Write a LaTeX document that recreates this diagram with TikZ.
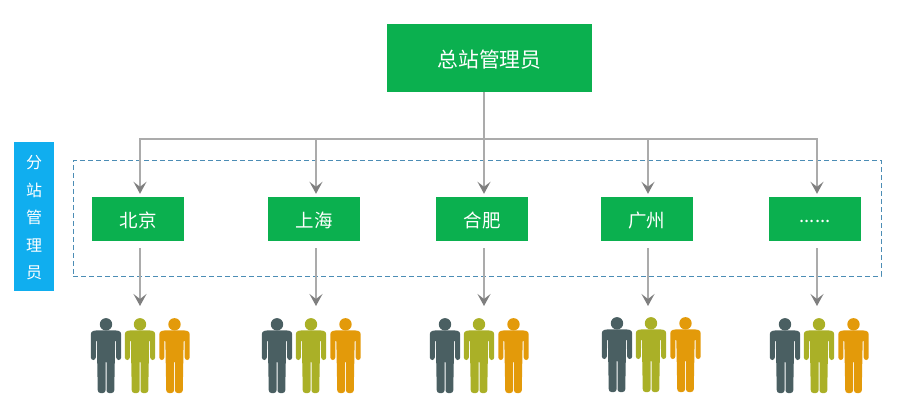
\documentclass[tikz,border=0pt]{standalone}
\usepackage{fontspec}
\setmainfont{Noto Sans CJK SC}
\usetikzlibrary{arrows.meta}
\definecolor{boxgreen}{HTML}{0BB04F}
\definecolor{sideblue}{HTML}{10AEEF}
\definecolor{dashblue}{HTML}{4C8DB5}
\definecolor{flowgray}{HTML}{ABABAB}
\definecolor{tipgray}{HTML}{7F7F7F}
\definecolor{mandark}{HTML}{4A5F62}
\definecolor{manolive}{HTML}{AAB027}
\definecolor{manorange}{HTML}{E39A0A}
\tikzset{
  topbox/.style={fill=boxgreen,text=white,minimum width=205pt,minimum height=68pt,
    inner sep=0pt,text height=18pt,text depth=0pt,font=\fontsize{20.8}{24}\selectfont},
  citybox/.style={fill=boxgreen,text=white,minimum width=92pt,minimum height=44pt,
    inner sep=0pt,text height=16pt,text depth=0pt,font=\fontsize{18.5}{22}\selectfont},
  sidebox/.style={fill=sideblue,text=white,minimum width=40pt,minimum height=149pt,
    inner sep=0pt,align=center,font=\fontsize{16}{27.5}\selectfont},
  dashbox/.style={draw=dashblue,line width=0.9pt,minimum width=808pt,minimum height=115.5pt,
    dash pattern=on 5pt off 3pt},
  flow/.style={draw=flowgray,line width=1.4pt,
    -{Stealth[length=12pt,width=13pt,inset=5pt,color=tipgray]}},
  man/.pic={
    \fill (0,6.3) circle (6.2pt);
    \fill[rounded corners=2.6pt] (-10,12.3)--(-15.2,13.5)--(-15.2,42)--(-10.2,42)--(-10.2,21)--(-9.2,21)
      --(-8.2,75)--(-0.5,75)--(-0.5,42)--(0.5,42)--(0.5,75)--(8.2,75)--(9.2,21)--(10.2,21)
      --(10.2,42)--(15.2,42)--(15.2,13.5)--(10,12.3)--cycle;
  },
  crowd/.pic={
    \pic[mandark] at (-34,0) {man};
    \pic[manolive] at (0,0) {man};
    \pic[manorange] at (34.5,0) {man};
  }
}
\begin{document}
\begin{tikzpicture}[x=1pt,y=-1pt]
  \useasboundingbox (0,0) rectangle (900,418);

  \node[dashbox] (group) at (477,218.2) {};
  \node[sidebox] (side) at (34,216.5) {\rule{0pt}{16pt}分\\站\\管\\理\\员};
  \node[topbox] (top) at (489.5,58) {总站管理员};

  \node[citybox] (beijing) at (138,219) {北京};
  \node[citybox] (shanghai) at (314,219) {上海};
  \node[citybox] (hefei) at (482,219) {合肥};
  \node[citybox] (guangzhou) at (646.5,219) {广州};
  \node[citybox] (more) at (815,219) {\raisebox{5pt}{......}};

  \coordinate (bus) at (484,139);
  \coordinate (crowdbj) at (140,306);
  \coordinate (crowdsh) at (316,306);
  \coordinate (crowdhf) at (484,306);
  \coordinate (crowdgz) at (648,306);
  \coordinate (crowdmo) at (817,306);

  % trunk and bus
  \draw[flow] ([xshift=-5.5pt]top.south) -- ([xshift=2pt,yshift=3pt]hefei.north);
  \draw[flow] (bus) -| ([xshift=2pt,yshift=3pt]beijing.north);
  \draw[flow] (bus) -| ([xshift=2pt,yshift=3pt]shanghai.north);
  \draw[flow] (bus) -| ([xshift=1.5pt,yshift=3pt]guangzhou.north);
  \draw[flow] (bus) -| ([xshift=2pt,yshift=3pt]more.north);

  % city to staff
  \draw[flow] ([xshift=2pt,yshift=-7pt]beijing.south) -- (crowdbj);
  \draw[flow] ([xshift=2pt,yshift=-7pt]shanghai.south) -- (crowdsh);
  \draw[flow] ([xshift=2pt,yshift=-7pt]hefei.south) -- (crowdhf);
  \draw[flow] ([xshift=1.5pt,yshift=-7pt]guangzhou.south) -- (crowdgz);
  \draw[flow] ([xshift=2pt,yshift=-7pt]more.south) -- (crowdmo);

  \pic at (140,318) {crowd};
  \pic at (311,318) {crowd};
  \pic at (479,318) {crowd};
  \pic at (651,317) {crowd};
  \pic at (819,318) {crowd};
\end{tikzpicture}
\end{document}
